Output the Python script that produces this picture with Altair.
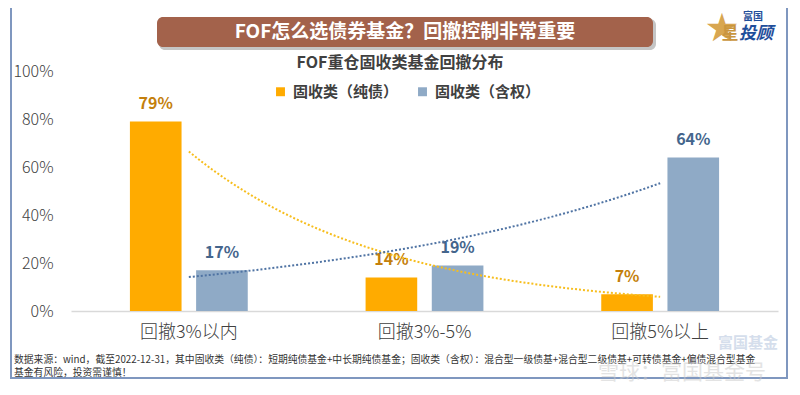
import altair as alt
import pandas as pd

categories = ["回撤3%以内", "回撤3%-5%", "回撤5%以上"]
series_names = ["固收类（纯债）", "固收类（含权）"]
pure_bond = [0.79, 0.14, 0.07]
with_equity = [0.17, 0.19, 0.64]

title_text = "FOF怎么选债券基金？回撤控制非常重要"
subtitle_text = "FOF重仓固收类基金回撤分布"
footer_1 = "数据来源：wind，截至2022-12-31，其中固收类（纯债）：短期纯债基金+中长期纯债基金；固收类（含权）：混合型一级债基+混合型二级债基+可转债基金+偏债混合型基金"
footer_2 = "基金有风险，投资需谨慎！"

rows = []
for i, c in enumerate(categories):
    rows.append({"cat": c, "idx": i + 1, "series": series_names[0], "value": pure_bond[i]})
    rows.append({"cat": c, "idx": i + 1, "series": series_names[1], "value": with_equity[i]})
df = pd.DataFrame(rows)

FONT = "Noto Sans CJK SC"
ORANGE = "#FFAB00"
BLUE = "#8FAAC6"

def one(t):
    return pd.DataFrame({"t": [t]})

def txt(t, x, y, **kw):
    return alt.Chart(one(t)).mark_text(font=FONT, baseline="middle", **kw).encode(
        x=alt.value(x), y=alt.value(y), text="t:N")

def box(x1, x2, y1, y2, **kw):
    return alt.Chart(one("")).mark_rect(**kw).encode(
        x=alt.value(x1), x2=alt.value(x2), y=alt.value(y1), y2=alt.value(y2))

xenc = alt.X("cat:N", sort=categories, title=None,
             scale=alt.Scale(paddingInner=0.5, paddingOuter=0.25),
             axis=alt.Axis(labelFontSize=18, labelColor="#404040", labelFont=FONT,
                           labelFontWeight=300, labelPadding=12, ticks=False,
                           domainColor="#D9D9D9", domainWidth=1.5, labelAngle=0))
xoff = alt.XOffset("series:N", sort=series_names,
                   scale=alt.Scale(paddingInner=0.22, paddingOuter=0))
yenc = alt.Y("value:Q", title=None,
             scale=alt.Scale(domain=[0, 1], nice=False),
             axis=alt.Axis(values=[0, 0.2, 0.4, 0.6, 0.8, 1.0], format=".0%",
                           labelFontSize=16, labelColor="#404040", labelFont=FONT,
                           labelFontWeight=300, labelPadding=18, ticks=False,
                           domain=False, grid=False))

base = alt.Chart(df)

FR = "#7F97BF"
frame = [box(-61, -59, -65, 308, color=FR), box(715, 717, -65, 308, color=FR),
         box(-61, 717, -65, -63, color=FR), box(-61, 717, 306, 308, color=FR)]

banner_shadow = box(88, 585, -52, -21, color="#7F7F7F", opacity=0.45, cornerRadius=6)
banner = box(86, 582, -54, -24, color="#A3624B", cornerRadius=6)
banner_text = txt(title_text, 334, -39, fontSize=19, fontWeight="bold", color="white", align="center")
subtitle = txt(subtitle_text, 329, -8, fontSize=16, fontWeight="bold", color="#404040", align="center")

logo_star = txt("★", 651, -42, fontSize=32, color="#D8A650", align="center")
logo_xing = txt("星", 659, -37, fontSize=17, fontWeight="bold", color="#C9953E", align="center")
logo_tg = txt("投顾", 668, -37, fontSize=17, fontWeight="bold", fontStyle="italic", color="#1F4E9A", align="left")
logo_fg = txt("富国", 672, -54, fontSize=10, fontWeight="bold", color="#1F4E9A", align="left")

wm1 = txt("富国基金", 647, 272, fontSize=15, fontWeight="bold", color="#D5DEEC", align="left")
wm2 = txt("雪球：富国基金号", 527, 302, fontSize=21, color="#C8C8C8", opacity=0.5, align="left")

footer1 = txt(footer_1, -57, 289, fontSize=9.8, color="#333333", align="left")
footer2 = txt(footer_2, -57, 302, fontSize=9.8, color="#333333", align="left")

bars = base.mark_bar().encode(
    x=xenc, xOffset=xoff, y=yenc,
    color=alt.Color("series:N", sort=series_names,
                    scale=alt.Scale(domain=series_names, range=[ORANGE, BLUE]),
                    legend=alt.Legend(title=None, orient="none", legendX=202, legendY=13,
                                      direction="horizontal", symbolType="square",
                                      symbolSize=80, symbolStrokeWidth=0, labelFontSize=15,
                                      labelFont=FONT, labelFontWeight="bold",
                                      labelColor="#404040", columnPadding=16,
                                      labelOffset=5, padding=0))
)

labels = base.mark_text(font=FONT, fontSize=16, fontWeight="bold", baseline="bottom", dy=-9).transform_calculate(
    lc="datum.series == '固收类（纯债）' ? '#C47F0C' : '#44658C'"
).encode(
    x=alt.X("cat:N", sort=categories), xOffset=xoff, y=alt.Y("value:Q"),
    text=alt.Text("value:Q", format=".0%"),
    color=alt.Color("lc:N", scale=None)
)

# exponential trendline (least squares on log values), computed by Vega transforms
trend = base.transform_calculate(
    logv="log(datum.value)"
).transform_joinaggregate(
    mx="mean(idx)", my="mean(logv)", groupby=["series"]
).transform_calculate(
    dxy="(datum.idx - datum.mx) * (datum.logv - datum.my)",
    dxx="(datum.idx - datum.mx) * (datum.idx - datum.mx)"
).transform_joinaggregate(
    sxy="sum(dxy)", sxx="sum(dxx)", groupby=["series"]
).transform_filter(
    "datum.idx == 1"
).transform_calculate(
    xs="sequence(1, 3.001, 0.05)"
).transform_flatten(
    ["xs"]
).transform_calculate(
    yv="exp(datum.my + datum.sxy / datum.sxx * (datum.xs - datum.mx))",
    lc="datum.series == '固收类（纯债）' ? '#F7BE1E' : '#4F73A3'"
).mark_line(strokeDash=[2, 2], strokeWidth=2).encode(
    x=alt.X("xs:Q", scale=alt.Scale(domain=[0.5, 3.5], nice=False, zero=False), axis=None),
    y=alt.Y("yv:Q"),
    detail="series:N",
    color=alt.Color("lc:N", scale=None)
)

main = alt.layer(bars, labels).resolve_scale(color="independent")

chart = alt.layer(
    wm1, main, trend, *frame,
    banner_shadow, banner, banner_text, subtitle,
    logo_star, logo_xing, logo_tg, logo_fg, footer1, footer2, wm2
).resolve_scale(x="independent", color="independent").properties(
    width=707, height=240,
    autosize=alt.AutoSizeParams(type="none"),
    padding={"left": 63, "top": 63, "right": 10, "bottom": 76},
    background="white"
).configure_view(stroke=None)

chart.save("out.html", embed_options={"renderer": "svg", "actions": False})
